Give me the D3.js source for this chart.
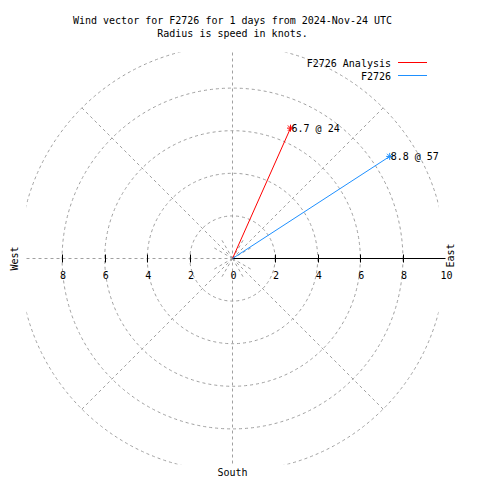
<!DOCTYPE html>
<html><head><meta charset="utf-8">
<script src="https://cdn.jsdelivr.net/npm/d3@7"></script>
<style>body{margin:0;background:#fff}svg{display:block}text{font-family:"DejaVu Sans Mono","Liberation Mono",monospace;font-size:10px;fill:#000}</style>
</head><body><svg id="c" width="480" height="480"></svg>
<script>
const titleLines = ["Wind vector for F2726 for 1 days from 2024-Nov-24 UTC", "Radius is speed in knots."];
const seriesNames = ["F2726 Analysis", "F2726"];
const speeds = [6.7, 8.8];
const directions = [24, 57];
const ringValues = [2, 4, 6, 8, 10];
const tickValues = [0, 2, 4, 6, 8];
const rightTickLabels = ["0", "2", "4", "6", "8", "10"];
const leftTickLabels = ["2", "4", "6", "8"];
const longSpokes = [45, 135, 225, 315];
const shortSpokes = [30, 60, 120, 150, 210, 240, 300, 330];

const svg = d3.select("#c");
const cx = 232.5, cy = 258.5;
const r = d3.scaleLinear().domain([0, 10]).range([0, 213]);
const colors = ["#ff0000", "#1e90ff"];
const grid = "#a0a0a0";
const clipR = 206;

svg.append("defs").append("clipPath").attr("id", "box")
  .append("rect").attr("x", cx - clipR).attr("y", cy - clipR).attr("width", 2 * clipR).attr("height", 2 * clipR);

const g = svg.append("g");
g.append("g").attr("clip-path", "url(#box)").selectAll("circle").data(ringValues).join("circle")
  .attr("cx", cx).attr("cy", cy).attr("r", d => r(d))
  .attr("fill", "none").attr("stroke", grid).attr("stroke-dasharray", "3,3");
const pt = (deg, v) => [cx + r(v) * Math.sin(deg * Math.PI / 180), cy - r(v) * Math.cos(deg * Math.PI / 180)];
g.selectAll("line.ls").data(longSpokes).join("line").attr("class", "ls")
  .attr("x1", cx).attr("y1", cy).attr("x2", d => pt(d, 10)[0]).attr("y2", d => pt(d, 10)[1])
  .attr("stroke", grid).attr("stroke-dasharray", "3,3");
g.selectAll("line.ss").data(shortSpokes).join("line").attr("class", "ss")
  .attr("x1", cx).attr("y1", cy).attr("x2", d => pt(d, 1)[0]).attr("y2", d => pt(d, 1)[1])
  .attr("stroke", grid).attr("stroke-dasharray", "3,3");
g.append("line").attr("x1", cx - clipR).attr("x2", cx).attr("y1", cy).attr("y2", cy)
  .attr("stroke", grid).attr("stroke-dasharray", "3,3");
g.append("line").attr("x1", cx).attr("x2", cx).attr("y1", cy - clipR).attr("y2", cy + clipR)
  .attr("stroke", grid).attr("stroke-dasharray", "3,3");
g.append("line").attr("x1", cx).attr("x2", cx + r(10)).attr("y1", cy).attr("y2", cy).attr("stroke", "#000");
const tv = tickValues.filter(v => v > 0);
g.selectAll("line.tr").data(tv).join("line").attr("class", "tr")
  .attr("x1", d => Math.round(cx + r(d)) + 0.5).attr("x2", d => Math.round(cx + r(d)) + 0.5)
  .attr("y1", cy - 4).attr("y2", cy + 4).attr("stroke", "#000");
g.selectAll("line.tl").data(tv).join("line").attr("class", "tl")
  .attr("x1", d => Math.round(cx - r(d)) + 0.5).attr("x2", d => Math.round(cx - r(d)) + 0.5)
  .attr("y1", cy - 4).attr("y2", cy + 4).attr("stroke", "#000");
g.selectAll(null).data(rightTickLabels.map((t, i) => ({t, v: i * 2}))).join("text")
  .attr("x", d => cx + r(d.v) + 1).attr("y", 279).attr("text-anchor", "middle").text(d => d.t);
g.selectAll(null).data(leftTickLabels.map((t, i) => ({t, v: (i + 1) * 2}))).join("text")
  .attr("x", d => cx - r(d.v) + 1).attr("y", 279).attr("text-anchor", "middle").text(d => d.t);
svg.append("text").attr("transform", `translate(18,${cy}) rotate(-90)`).attr("text-anchor", "middle").text("West");
svg.append("text").attr("transform", `translate(454,${cy - 3}) rotate(-90)`).attr("text-anchor", "middle").text("East");
svg.append("text").attr("x", cx).attr("y", 476).attr("text-anchor", "middle").text("South");
svg.selectAll("text.title").data(titleLines).join("text").attr("class", "title")
  .attr("x", cx).attr("y", (d, i) => 24 + i * 13).attr("text-anchor", "middle").text(d => d);
const vec = speeds.map((s, i) => ({s, d: directions[i], name: seriesNames[i], color: colors[i]}));
vec.forEach(v => {
  const [x2, y2] = pt(v.d, v.s);
  g.append("line").attr("x1", cx).attr("y1", cy).attr("x2", x2).attr("y2", y2).attr("stroke", v.color);
  const m = 3.5;
  const star = `M${x2 - m},${y2}H${x2 + m}M${x2},${y2 - m}V${y2 + m}M${x2 - m * 0.75},${y2 - m * 0.75}L${x2 + m * 0.75},${y2 + m * 0.75}M${x2 - m * 0.75},${y2 + m * 0.75}L${x2 + m * 0.75},${y2 - m * 0.75}`;
  g.append("path").attr("d", star).attr("stroke", v.color).attr("fill", "none");
  g.append("text").attr("x", x2 + 1).attr("y", y2 + 3.5).text(`${v.s.toFixed(1)} @ ${v.d}`);
});
const leg = svg.selectAll("g.leg").data(vec).join("g").attr("class", "leg")
  .attr("transform", (d, i) => `translate(0,${62.5 + i * 13})`);
leg.append("text").attr("x", 391).attr("y", 4).attr("text-anchor", "end").text(d => d.name);
leg.append("line").attr("x1", 398).attr("x2", 427).attr("y1", 0).attr("y2", 0).attr("stroke", d => d.color);
</script></body></html>
